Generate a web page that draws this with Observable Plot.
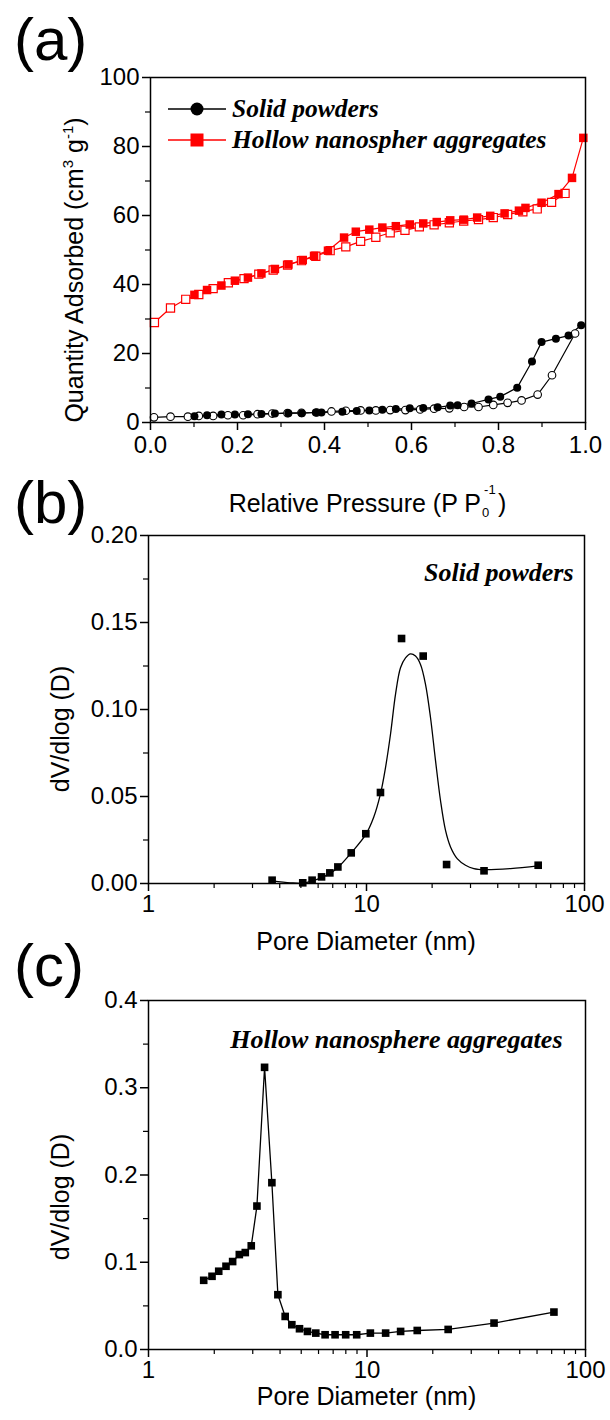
<!DOCTYPE html>
<html><head><meta charset="utf-8">
<script src="https://cdn.jsdelivr.net/npm/d3@7"></script>
<script src="https://cdn.jsdelivr.net/npm/@observablehq/plot@0.6"></script>
<style>
body{margin:0;background:#fff;}
#wrap{position:relative;width:610px;height:1420px;font-family:"Liberation Sans",Arial,sans-serif;color:#000;overflow:hidden;background:#fff}
.abs{position:absolute;white-space:nowrap}
.panel{position:absolute;left:0}
.letter{font-size:60px;line-height:60px}
.xt{font-size:25px;line-height:25px;text-align:center}
.yt{font-size:25px;line-height:25px;transform:translate(-50%,-50%) rotate(-90deg)}
.serif{font-family:"Liberation Serif","Times New Roman",serif;font-weight:bold;font-style:italic;font-size:25.5px}
.legrow{display:flex;align-items:center;height:24px}
.stack{position:relative;display:inline-block;width:17px;height:20px}
.stack span{position:absolute;font-size:13px;line-height:13px}
sup{font-size:15px;vertical-align:10px;line-height:0}
</style></head><body><div id="wrap"></div>
<script>
// ---------- Panel (a): N2 isotherms ----------
const hollowAdsP = [0.101,0.130,0.163,0.194,0.224,0.255,0.286,0.317,0.350,0.376,0.408,0.445,0.472,0.503,0.533,0.564,0.596,0.627,0.658,0.689,0.720,0.751,0.781,0.814,0.847,0.862,0.899,0.938,0.969,0.995];
const hollowAdsQ = [37.0,38.4,39.7,41.1,42.0,43.2,44.5,45.8,47.1,48.3,49.8,53.6,55.3,55.9,56.5,56.9,57.4,57.7,58.1,58.6,58.8,59.4,59.9,60.6,61.4,62.2,63.7,66.2,70.9,82.5];
const hollowDesP = [0.953,0.922,0.889,0.856,0.821,0.788,0.754,0.720,0.687,0.652,0.618,0.585,0.551,0.518,0.483,0.449,0.413,0.380,0.347,0.315,0.282,0.249,0.215,0.179,0.144,0.111,0.081,0.046,0.009];
const hollowDesQ = [66.4,63.8,61.9,61.1,60.3,59.4,58.8,58.4,57.9,57.3,56.7,55.7,55.0,53.7,52.5,50.9,49.8,48.2,46.9,45.6,44.2,43.0,41.7,40.5,38.8,37.1,35.7,33.2,29.0];
const solidAdsP = [0.101,0.130,0.163,0.194,0.224,0.255,0.286,0.317,0.348,0.380,0.393,0.441,0.474,0.503,0.533,0.564,0.596,0.627,0.660,0.689,0.706,0.738,0.777,0.804,0.843,0.877,0.899,0.932,0.961,0.990];
const solidAdsQ = [1.8,2.1,2.3,2.3,2.4,2.5,2.6,2.7,2.7,2.9,2.9,3.1,3.3,3.5,3.7,3.9,4.1,4.2,4.4,4.9,5.0,5.5,6.7,7.5,10.1,17.7,23.3,24.3,25.2,28.2];
const solidDesP = [0.976,0.923,0.890,0.853,0.821,0.788,0.754,0.721,0.687,0.652,0.620,0.586,0.551,0.518,0.483,0.449,0.416,0.382,0.347,0.315,0.280,0.246,0.213,0.178,0.144,0.111,0.086,0.046,0.008];
const solidDesQ = [25.8,13.7,8.1,6.4,5.7,5.1,4.5,4.5,4.1,4.0,3.8,3.6,3.6,3.5,3.5,3.4,3.2,2.9,2.8,2.7,2.6,2.4,2.1,2.1,1.9,1.9,1.7,1.7,1.5];
const isoXTicks = [0,0.2,0.4,0.6,0.8,1.0];
const isoXMinor = [0.1,0.3,0.5,0.7,0.9];
const isoYTicks = [0,20,40,60,80,100];
const isoYMinor = [10,30,50,70,90];
const legendLabels = ["Solid powders","Hollow nanospher aggregates"];

// ---------- Panel (b): PSD solid powders ----------
const solidPoreD = [3.69,5.10,5.63,6.22,6.79,7.39,8.51,9.93,11.59,14.48,18.2,23.3,34.6,61.3];
const solidPoreV = [0.0019,0.0004,0.0019,0.0038,0.0061,0.0095,0.0176,0.0286,0.0523,0.1408,0.1307,0.0109,0.0073,0.0105];
const solidFitD = [3.69,4.48,5.11,5.63,6.22,6.79,7.39,8.51,9.93,10.80,11.59,12.23,12.89,13.59,14.32,15.10,15.92,16.78,17.69,18.65,19.66,20.73,21.85,23.04,24.29,26.06,28.46,31.08,34.66,45.78,61.31];
const solidFitV = [0.0015,0.0004,0.0002,0.0015,0.0034,0.0057,0.0092,0.0176,0.0282,0.0382,0.0515,0.0668,0.0859,0.1088,0.1240,0.1297,0.1320,0.1307,0.1259,0.1145,0.0954,0.0706,0.0477,0.0305,0.0210,0.0143,0.0105,0.0086,0.0080,0.0086,0.0101];
const psdBYTicks = [0,0.05,0.10,0.15,0.20];
const psdBYMinor = [0.025,0.075,0.125,0.175];

// ---------- Panel (c): PSD hollow aggregates ----------
const hollowPoreD = [1.789,1.953,2.096,2.263,2.427,2.604,2.773,2.953,3.135,3.398,3.670,3.910,4.222,4.529,4.910,5.340,5.830,6.430,7.143,7.989,8.971,10.36,12.17,14.25,16.98,23.52,38.14,71.7];
const hollowPoreV = [0.0793,0.0839,0.0897,0.0954,0.1008,0.1088,0.1111,0.1188,0.1644,0.3234,0.1912,0.0628,0.0379,0.0284,0.0238,0.0207,0.0188,0.0169,0.0169,0.0169,0.0169,0.0188,0.0188,0.0207,0.0218,0.0230,0.0303,0.0429];
const psdCYTicks = [0,0.1,0.2,0.3,0.4];
const psdCYMinor = [0.05,0.15,0.25,0.35];

const poreXTicks = [1,10,100];
const poreXMinor = [2,3,4,5,6,7,8,9,20,30,40,50,60,70,80,90];

const RED = "#ff0000";
const FONT = '"Liberation Sans", Arial, sans-serif';
const SERIF = '"Liberation Serif", "Times New Roman", serif';
const rows = (xs, ys) => xs.map((x, i) => ({x, y: ys[i]}));
const wrap = document.getElementById("wrap");

function place(node, top) {
  const d = document.createElement("div");
  d.className = "panel";
  d.style.top = top + "px";
  d.appendChild(node);
  wrap.appendChild(d);
}
function html(h, cls, style) {
  const d = document.createElement("div");
  d.className = "abs " + (cls || "");
  d.innerHTML = h;
  Object.assign(d.style, style);
  wrap.appendChild(d);
  return d;
}
function axes({xt, xm, xf, yt, ym, yf, fs, xpad = 3}) {
  return [
    Plot.axisX({ticks: xt, tickFormat: xf, tickSize: 8, tickPadding: xpad, fontSize: fs, strokeWidth: 1.5, label: null}),
    Plot.axisX({ticks: xm, tickFormat: () => "", tickSize: 5, strokeWidth: 1.2, label: null}),
    Plot.axisY({ticks: yt, tickFormat: yf, tickSize: 8, tickPadding: 3, fontSize: fs, strokeWidth: 1.5, label: null}),
    Plot.axisY({ticks: ym, tickFormat: () => "", tickSize: 5, strokeWidth: 1.2, label: null}),
    Plot.frame({stroke: "black", strokeWidth: 1.5})
  ];
}

// Panel (a)
const hA = rows(hollowAdsP, hollowAdsQ), hD = rows(hollowDesP, hollowDesQ);
const sA = rows(solidAdsP, solidAdsQ), sD = rows(solidDesP, solidDesQ);
const plotA = Plot.plot({
  width: 610, height: 462, marginTop: 77, marginBottom: 40, marginLeft: 150, marginRight: 25,
  style: {fontFamily: FONT, fontSize: "24px", color: "black", background: "white", overflow: "visible"},
  x: {domain: [0, 1]}, y: {domain: [0, 100]},
  marks: [
    Plot.line(hD, {x: "x", y: "y", stroke: RED, strokeWidth: 1.2}),
    Plot.line(hA, {x: "x", y: "y", stroke: RED, strokeWidth: 1.2}),
    Plot.line(sD, {x: "x", y: "y", stroke: "black", strokeWidth: 1.2}),
    Plot.line(sA, {x: "x", y: "y", stroke: "black", strokeWidth: 1.2}),
    Plot.dot(hD, {x: "x", y: "y", symbol: "square", r: 4.6, fill: "white", stroke: RED, strokeWidth: 1.2}),
    Plot.dot(hA, {x: "x", y: "y", symbol: "square", r: 4.8, fill: RED}),
    Plot.dot(sD, {x: "x", y: "y", r: 3.8, fill: "white", stroke: "black", strokeWidth: 1.1}),
    Plot.dot(sA, {x: "x", y: "y", r: 4, fill: "black"}),
    ...axes({xt: isoXTicks, xm: isoXMinor, xf: d3.format(".1f"), yt: isoYTicks, ym: isoYMinor, yf: d3.format("d"), fs: 24, xpad: 5})
  ]
});
place(plotA, 0);

// Panel (b)
const plotB = Plot.plot({
  width: 610, height: 463, marginTop: 75, marginBottom: 40, marginLeft: 148, marginRight: 26,
  style: {fontFamily: FONT, fontSize: "24px", color: "black", background: "transparent", overflow: "visible"},
  x: {type: "log", domain: [1, 100]}, y: {domain: [0, 0.2]},
  marks: [
    Plot.line(rows(solidFitD, solidFitV), {x: "x", y: "y", curve: "catmull-rom", stroke: "black", strokeWidth: 1.3}),
    Plot.dot(rows(solidPoreD, solidPoreV), {x: "x", y: "y", symbol: "square", r: 4.3, fill: "black"}),
    Plot.text(["Solid powders"], {frameAnchor: "top-right", dx: -11, dy: 27, textAnchor: "end",
      fontFamily: SERIF, fontWeight: "bold", fontStyle: "italic", fontSize: 26}),
    ...axes({xt: poreXTicks, xm: poreXMinor, xf: d3.format("d"), yt: psdBYTicks, ym: psdBYMinor, yf: d3.format(".2f"), fs: 24})
  ]
});
place(plotB, 460);

// Panel (c)
const plotC = Plot.plot({
  width: 610, height: 459, marginTop: 70, marginBottom: 40, marginLeft: 148, marginRight: 25,
  style: {fontFamily: FONT, fontSize: "24px", color: "black", background: "transparent", overflow: "visible"},
  x: {type: "log", domain: [1, 100]}, y: {domain: [0, 0.4]},
  marks: [
    Plot.line(rows(hollowPoreD, hollowPoreV), {x: "x", y: "y", stroke: "black", strokeWidth: 1.3}),
    Plot.dot(rows(hollowPoreD, hollowPoreV), {x: "x", y: "y", symbol: "square", r: 4.3, fill: "black"}),
    Plot.text(["Hollow nanosphere aggregates"], {frameAnchor: "top-right", dx: -23, dy: 29, textAnchor: "end",
      fontFamily: SERIF, fontWeight: "bold", fontStyle: "italic", fontSize: 26}),
    ...axes({xt: poreXTicks, xm: poreXMinor, xf: d3.format("d"), yt: psdCYTicks, ym: psdCYMinor, yf: d3.format(".1f"), fs: 24})
  ]
});
place(plotC, 930);

// Panel letters
html("(a)", "letter", {left: "14px", top: "10px"});
html("(b)", "letter", {left: "14px", top: "473px"});
html("(c)", "letter", {left: "14px", top: "936px"});

// Axis titles
html('Quantity Adsorbed (cm<sup>3</sup> g<sup>-1</sup>)', "yt", {left: "74px", top: "270px"});
html('Relative Pressure (P P<span class="stack"><span style="left:3px;top:-9px">-1</span><span style="left:1px;top:14px">0</span></span>)', "xt", {left: "150px", width: "435px", top: "491px"});
html('dV/dlog (D)', "yt", {left: "60px", top: "729px"});
html('Pore Diameter (nm)', "xt", {left: "148px", width: "436px", top: "929px"});
html('dV/dlog (D)', "yt", {left: "60px", top: "1197px"});
html('Pore Diameter (nm)', "xt", {left: "148px", width: "437px", top: "1384px"});

// Legend (panel a)
const sw1 = '<svg width="58" height="20" style="margin-right:6px"><line x1="0" y1="10" x2="58" y2="10" stroke="black" stroke-width="1.5"/><circle cx="29" cy="10" r="6.5" fill="black"/></svg>';
const sw2 = '<svg width="58" height="20" style="margin-right:6px"><line x1="0" y1="10" x2="58" y2="10" stroke="' + RED + '" stroke-width="1.5"/><rect x="22.5" y="3.5" width="13" height="13" fill="' + RED + '"/></svg>';
html('<div class="legrow">' + sw1 + '<span class="serif">' + legendLabels[0] + '</span></div>', "", {left: "168px", top: "97px"});
html('<div class="legrow">' + sw2 + '<span class="serif">' + legendLabels[1] + '</span></div>', "", {left: "168px", top: "128px"});
</script></body></html>
